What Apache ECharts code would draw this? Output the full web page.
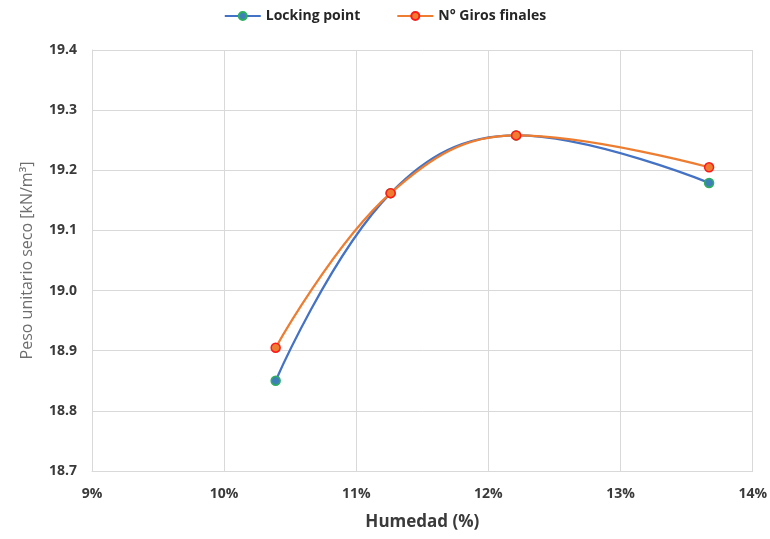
<!DOCTYPE html>
<html>
<head>
<meta charset="utf-8">
<script src="https://cdn.jsdelivr.net/npm/echarts@6/dist/echarts.min.js"></script>
<style>
  html, body { margin: 0; padding: 0; background: #fff; }
  #chart { width: 770px; height: 539px; }
</style>
</head>
<body>
<div id="chart"></div>
<script>
// Moisture content (%) and dry unit weight (kN/m³) for each compaction criterion
const humedadLocking = [10.39, 11.26, 12.21, 13.67];
const pesoLocking = [18.85, 19.162, 19.258, 19.179];
const humedadGiros = [10.39, 11.26, 12.21, 13.67];
const pesoGiros = [18.905, 19.162, 19.258, 19.205];

const xTicks = { min: 9, max: 14, step: 1 };
const yTicks = { min: 18.7, max: 19.4, step: 0.1 };

const pairs = (xs, ys) => xs.map((x, i) => [x, ys[i]]);

const FONT = 'Open Sans';
const DARK = '#3a3a3a';
const GRID = '#d9d9d9';

const chart = echarts.init(document.getElementById('chart'));
chart.setOption({
  animation: false,
  textStyle: { fontFamily: FONT },
  legend: {
    top: 4,
    left: 'center',
    itemWidth: 36,
    itemHeight: 10,
    itemGap: 36,
    textStyle: { fontFamily: FONT, fontSize: 14, fontWeight: 'bold', color: '#262626' },
    data: ['Locking point', 'N° Giros finales']
  },
  grid: { left: 92, right: 17, top: 50, bottom: 68 },
  xAxis: {
    type: 'value',
    min: xTicks.min,
    max: xTicks.max,
    interval: xTicks.step,
    name: 'Humedad (%)',
    nameLocation: 'middle',
    nameGap: 43,
    nameTextStyle: { fontFamily: FONT, fontSize: 17, fontWeight: 'bold', color: DARK },
    axisLine: { lineStyle: { color: GRID } },
    axisTick: { show: false },
    axisLabel: { formatter: '{value}%', margin: 16, fontFamily: FONT, fontSize: 14, fontWeight: 'bold', color: DARK },
    splitLine: { show: true, lineStyle: { color: GRID, width: 1 } }
  },
  yAxis: {
    type: 'value',
    min: yTicks.min,
    max: yTicks.max,
    interval: yTicks.step,
    name: 'Peso unitario seco [kN/m³]',
    nameLocation: 'middle',
    nameGap: 57,
    nameTextStyle: { fontFamily: FONT, fontSize: 16, fontWeight: 500, color: '#6e6e6e' },
    axisLine: { show: true, lineStyle: { color: GRID } },
    axisTick: { show: false },
    axisLabel: { formatter: v => v.toFixed(1), margin: 15, fontFamily: FONT, fontSize: 14, fontWeight: 'bold', color: DARK },
    splitLine: { show: true, lineStyle: { color: GRID, width: 1 } }
  },
  series: [
    {
      name: 'Locking point',
      type: 'line',
      smooth: 0.4,
      data: pairs(humedadLocking, pesoLocking),
      symbol: 'circle',
      symbolSize: 9,
      lineStyle: { color: '#4472C4', width: 2.25 },
      itemStyle: { color: '#3f7fb8', borderColor: '#2cb060', borderWidth: 1.5 },
      z: 2
    },
    {
      name: 'N° Giros finales',
      type: 'line',
      smooth: 0.4,
      data: pairs(humedadGiros, pesoGiros),
      symbol: 'circle',
      symbolSize: 9,
      lineStyle: { color: '#ED7D31', width: 2.25 },
      itemStyle: { color: '#ED7D31', borderColor: '#ff1a1a', borderWidth: 1.5 },
      z: 3
    }
  ]
});
</script>
</body>
</html>
